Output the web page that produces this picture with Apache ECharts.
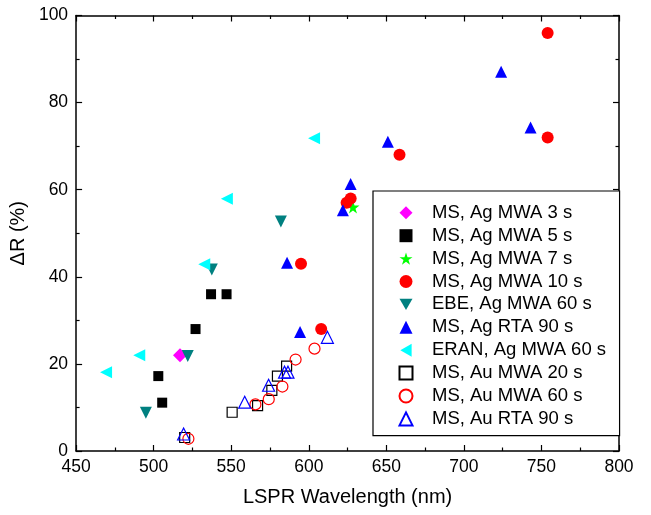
<!DOCTYPE html>
<html><head><meta charset="utf-8">
<script src="https://cdn.jsdelivr.net/npm/echarts@6/dist/echarts.min.js"></script>
<style>html,body{margin:0;padding:0;background:#fff}#c{width:651px;height:515px}</style>
</head><body><div id="c"></div>
<script>
var xTicks = [450, 500, 550, 600, 650, 700, 750, 800];
var yTicks = [0, 20, 40, 60, 80, 100];
var seriesNames = ["MS, Ag MWA 3 s","MS, Ag MWA 5 s","MS, Ag MWA 7 s","MS, Ag MWA 10 s","EBE, Ag MWA 60 s","MS, Ag RTA 90 s","ERAN, Ag MWA 60 s","MS, Au MWA 20 s","MS, Au MWA 60 s","MS, Au RTA 90 s"];
var agMwa3 = [[517, 22]];
var agMwa5 = [[503, 17.2], [505.5, 11.1], [527, 28], [537, 36], [547, 36]];
var agMwa7 = [[628.5, 56]];
var agMwa10 = [[595, 43], [608, 28], [624.4, 57], [627, 58], [658.5, 68], [754, 72], [754, 96]];
var ebe60 = [[495, 8.8], [522, 21.8], [537.5, 41.7], [582, 52.7]];
var agRta90 = [[586, 43.2], [594.4, 27.3], [622, 55.3], [627, 61.3], [651, 71], [724, 87.1], [743, 74.3]];
var eran60 = [[469.3, 18.1], [490.7, 22], [532.6, 42.9], [547.2, 57.9], [603.4, 71.8]];
var auMwa20 = [[520, 3.1], [550.6, 8.9], [567, 10.4], [576.2, 13.9], [579.8, 17.2], [585.7, 19.5]];
var auMwa60 = [[522.4, 2.8], [565.6, 10.7], [574.2, 11.9], [583, 14.8], [591.5, 21], [603.7, 23.5]];
var auRta90 = [[519.3, 3.9], [558.7, 11.2], [574.1, 15.1], [584.4, 18.1], [586.6, 18.1], [612, 26.1]];

var FONT = "'Liberation Sans', Arial, sans-serif";
var star = 'path://M50,0 L61.2,34.5 L97.6,34.5 L68.2,55.9 L79.4,90.5 L50,69.1 L20.6,90.5 L31.8,55.9 L2.4,34.5 L38.8,34.5 Z';
var triDown = 'path://M0,0 L100,0 L50,87 Z';
var triLeft = 'path://M0,50 L87,0 L87,100 Z';

function filled(name, data, symbol, color, size) {
  return {name: name, type: 'scatter', xAxisIndex: 0, yAxisIndex: 0, data: data, symbol: symbol,
    symbolSize: size, itemStyle: {color: color, opacity: 1}, emphasis: {disabled: true}, z: 3};
}
function hollow(name, data, symbol, color, size) {
  return {name: name, type: 'scatter', xAxisIndex: 0, yAxisIndex: 0, data: data, symbol: symbol,
    symbolSize: size, itemStyle: {color: 'rgba(255,255,255,0)', borderColor: color, borderWidth: 1.2, opacity: 1},
    emphasis: {disabled: true}, z: 4};
}

var axisLine = {show: true, onZero: false, lineStyle: {color: '#000', width: 1.5}};
var tick = {show: true, inside: true, length: 6, lineStyle: {color: '#000', width: 1.2}};
var minor = {show: true, splitNumber: 2, length: 3.5, lineStyle: {color: '#000', width: 1.2}};
var chart = echarts.init(document.getElementById('c'), null, {renderer: 'canvas'});
chart.setOption({
  animation: false,
  backgroundColor: '#fff',
  grid: {left: 75, right: 32, top: 15.5, bottom: 64, containLabel: false},
  xAxis: [{
    type: 'value', min: xTicks[0], max: xTicks[xTicks.length - 1], interval: 50,
    name: 'LSPR Wavelength (nm)', nameLocation: 'middle', nameGap: 36,
    nameTextStyle: {fontFamily: FONT, fontSize: 20, color: '#000'},
    axisLine: axisLine, axisTick: tick, minorTick: minor,
    axisLabel: {fontFamily: FONT, fontSize: 17.5, color: '#000', margin: 7},
    splitLine: {show: false}
  }, {
    type: 'value', position: 'top', min: xTicks[0], max: xTicks[xTicks.length - 1], interval: 50,
    axisLine: axisLine, axisTick: tick, minorTick: minor,
    axisLabel: {show: false}, splitLine: {show: false}
  }],
  yAxis: [{
    type: 'value', min: yTicks[0], max: yTicks[yTicks.length - 1], interval: 20,
    name: 'ΔR (%)', nameLocation: 'middle', nameGap: 40,
    nameTextStyle: {fontFamily: FONT, fontSize: 20, color: '#000'},
    axisLine: axisLine, axisTick: tick, minorTick: minor,
    axisLabel: {fontFamily: FONT, fontSize: 17.5, color: '#000', margin: 8},
    splitLine: {show: false}
  }, {
    type: 'value', position: 'right', min: yTicks[0], max: yTicks[yTicks.length - 1], interval: 20,
    axisLine: axisLine, axisTick: tick, minorTick: minor,
    axisLabel: {show: false}, splitLine: {show: false}
  }],
  legend: {
    show: true, orient: 'vertical', left: 373, top: 191,
    padding: [12.3, 13.5, 7.3, 25.5],
    itemWidth: 13, itemHeight: 13, itemGap: 3.9,
    backgroundColor: '#fff', borderColor: '#000', borderWidth: 1.2, borderRadius: 0,
    textStyle: {fontFamily: FONT, fontSize: 18.5, color: '#000', padding: [0, 0, 0, 14.5]},
    data: seriesNames
  },
  series: [
    filled(seriesNames[0], agMwa3, 'diamond', '#FF00FF', 14),
    filled(seriesNames[1], agMwa5, 'rect', '#000000', 10),
    filled(seriesNames[2], agMwa7, star, '#00FF00', 13),
    filled(seriesNames[3], agMwa10, 'circle', '#FF0000', 12),
    filled(seriesNames[4], ebe60, triDown, '#008080', 12),
    filled(seriesNames[5], agRta90, 'triangle', '#0000FF', 12),
    filled(seriesNames[6], eran60, triLeft, '#00FFFF', 12),
    hollow(seriesNames[7], auMwa20, 'rect', '#000000', 10),
    hollow(seriesNames[8], auMwa60, 'circle', '#FF0000', 11),
    hollow(seriesNames[9], auRta90, 'triangle', '#0000FF', 12)
  ]
});
</script></body></html>
